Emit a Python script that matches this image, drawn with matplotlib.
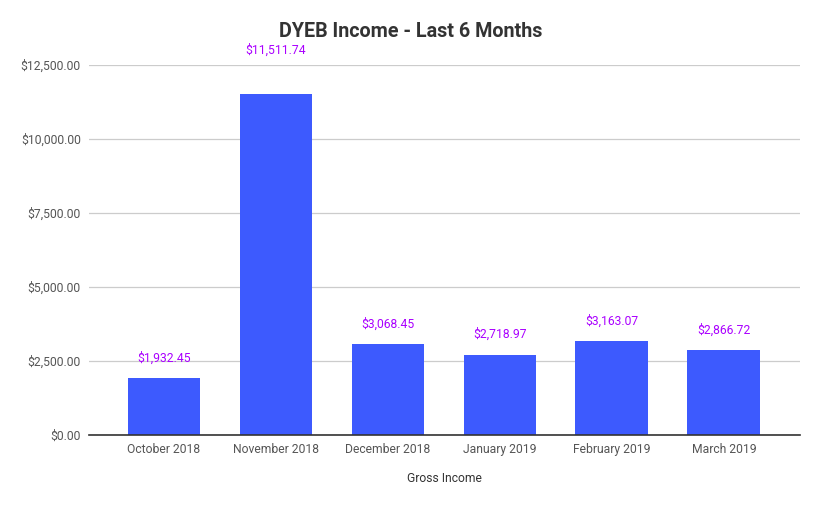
import matplotlib
matplotlib.use("Agg")
import matplotlib.pyplot as plt
from matplotlib.ticker import FuncFormatter

months = ["October 2018", "November 2018", "December 2018",
          "January 2019", "February 2019", "March 2019"]
income = [1932.45, 11511.74, 3068.45, 2718.97, 3163.07, 2866.72]
yticks = [0, 2500, 5000, 7500, 10000, 12500]

plt.rcParams['font.family'] = ['Roboto', 'DejaVu Sans']

fig = plt.figure(figsize=(8.22, 5.05), dpi=100)
ax = fig.add_axes([0.1083, 0.1386, 0.8649, 0.7327])

x = range(len(months))
ax.bar(x, income, width=0.65, color='#3d5afe', zorder=3)

# labels sit just above bars; the tallest one gets pushed up more
for xi, v in zip(x, income):
    off = 44 if v == max(income) else 20
    ax.annotate("${:,.2f}".format(v), (xi, v), xytext=(0, off),
                textcoords='offset pixels', ha='center', va='center',
                color='#aa00ff', fontsize=8.7, annotation_clip=False)

ax.set_xlim(-0.67, 5.68)
ax.set_ylim(0, 12500)
ax.set_yticks(yticks)
ax.yaxis.set_major_formatter(FuncFormatter(lambda v, p: "${:,.2f}".format(v)))
ax.set_xticks(list(x))
ax.set_xticklabels(months)
ax.tick_params(axis='both', length=0, colors='#555555', labelsize=8.7)
ax.tick_params(axis='x', pad=6)
ax.tick_params(axis='y', pad=6)

ax.grid(axis='y', color='#cccccc', linewidth=0.9, zorder=0)
for side in ('top', 'right', 'left'):
    ax.spines[side].set_visible(False)
ax.spines['bottom'].set_color('#333333')
ax.spines['bottom'].set_linewidth(1.2)
ax.spines['bottom'].set_zorder(4)

ax.set_xlabel("Gross Income", color='#333333', fontsize=8.7, labelpad=11)
fig.text(0.5, 0.937, "DYEB Income - Last 6 Months", ha='center', va='center',
         fontsize=14.2, fontweight='bold', color='#333333')

fig.savefig('out.png', dpi=100)
